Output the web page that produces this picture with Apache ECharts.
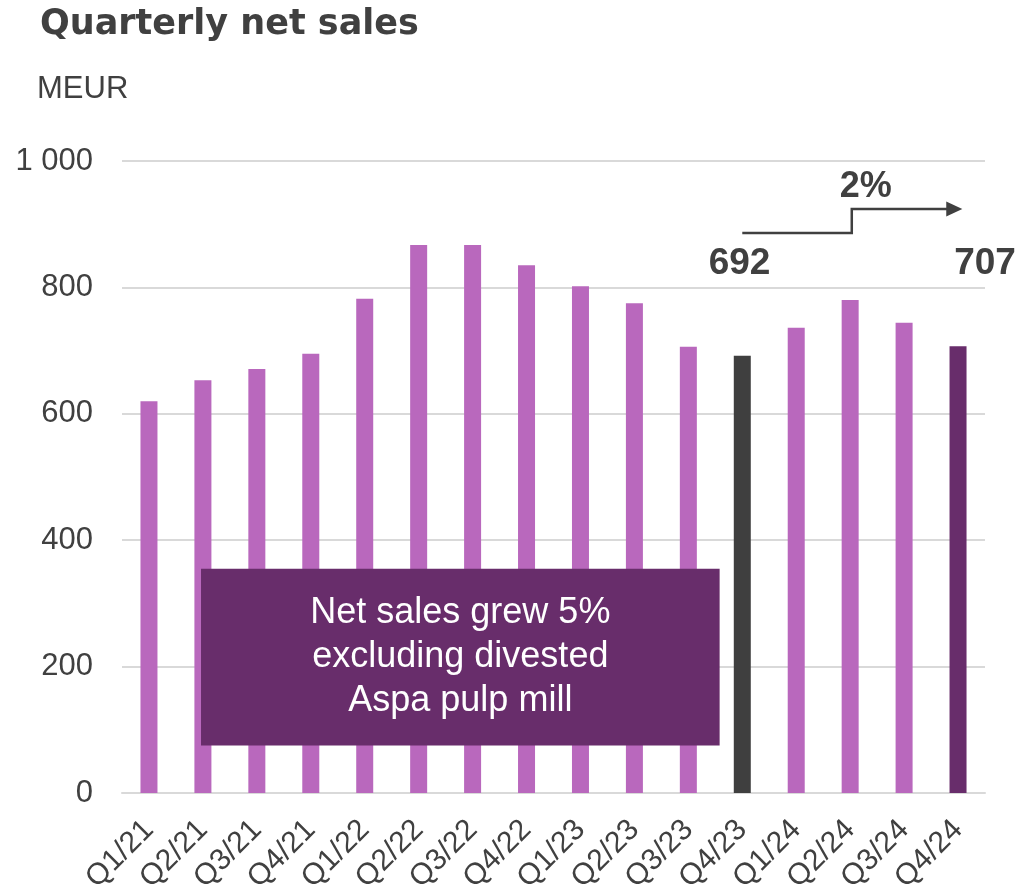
<!DOCTYPE html>
<html>
<head>
<meta charset="utf-8">
<style>
  html, body { margin: 0; padding: 0; background: #ffffff; }
  #chart { width: 1019px; height: 895px; }
</style>
<script src="https://cdn.jsdelivr.net/npm/echarts@6/dist/echarts.min.js"></script>
</head>
<body>
<div id="chart"></div>
<script>
// Quarterly net sales, MEUR
const quarters = ['Q1/21','Q2/21','Q3/21','Q4/21','Q1/22','Q2/22','Q3/22','Q4/22',
                  'Q1/23','Q2/23','Q3/23','Q4/23','Q1/24','Q2/24','Q3/24','Q4/24'];
const netSales = [620, 653, 671, 695, 782, 867, 867, 835, 802, 775, 706, 692, 736, 780, 744, 707];
const yTicks = [0, 200, 400, 600, 800, 1000];

const comparedIndex = 11;   // Q4/23
const currentIndex = 15;    // Q4/24
const growthLabel = '2%';
const noteLines = ['Net sales grew 5%', 'excluding divested', 'Aspa pulp mill'];

const BAR = '#b968bd';
const PREV = '#3f3f3f';
const CURR = '#682d6b';
const TEXT = '#404040';
const FONT = '"Liberation Sans", Arial, sans-serif';

const chart = echarts.init(document.getElementById('chart'));

const barData = netSales.map((v, i) => ({
  value: v,
  itemStyle: { color: i === comparedIndex ? PREV : (i === currentIndex ? CURR : BAR) }
}));

chart.setOption({
  animation: false,
  backgroundColor: '#ffffff',
  textStyle: { fontFamily: FONT },
  title: [
    { text: 'Quarterly net sales', left: 35, top: 2,
      textStyle: { fontFamily: '"DejaVu Sans", sans-serif', fontWeight: 'bold', fontSize: 35, color: TEXT } },
    { text: 'MEUR', left: 32, top: 69,
      textStyle: { fontFamily: FONT, fontWeight: 'normal', fontSize: 31, color: TEXT } }
  ],
  grid: { left: 122, right: 34, top: 161, bottom: 102, containLabel: false, outerBoundsMode: 'none' },
  xAxis: {
    type: 'category',
    data: quarters,
    axisLine: { lineStyle: { color: '#d9d9d9', width: 2 } },
    axisTick: { show: false },
    axisLabel: { rotate: 45, fontSize: 30, color: TEXT, margin: 32, interval: 0, fontFamily: FONT }
  },
  yAxis: {
    type: 'value',
    min: yTicks[0],
    max: yTicks[yTicks.length - 1],
    interval: 200,
    axisLine: { show: false },
    axisTick: { show: false },
    splitLine: { lineStyle: { color: '#d9d9d9', width: 2 } },
    axisLabel: {
      fontSize: 31, color: TEXT, margin: 29, fontFamily: FONT,
      formatter: v => String(v).replace(/\B(?=(\d{3})+(?!\d))/g, ' ')
    }
  },
  series: [{
    type: 'bar',
    data: barData,
    barWidth: 17
  }]
});

// Annotations placed in data space
function px(idx, val) {
  const a = chart.convertToPixel({ gridIndex: 0 }, [0, val]);
  const b = chart.convertToPixel({ gridIndex: 0 }, [1, val]);
  const band = b[0] - a[0];
  return [a[0] + idx * band, a[1]];
}

const lowY = 886, highY = 924;
const p0 = px(comparedIndex, lowY);
const p1 = px(13.03, lowY);
const p2 = px(13.03, highY);
const p3 = px(14.8, highY);
const tip = px(15.08, highY);
const boxTL = px(0.965, 355);
const boxBR = px(10.58, 75);
const boxCenter = px((0.965 + 10.58) / 2, 215);
const pctPos = px(13.29, 958);
const prevLbl = px(comparedIndex - 0.05, 837);
const currLbl = px(currentIndex + 0.5, 837);

chart.setOption({
  graphic: [
    {
      type: 'rect',
      shape: { x: boxTL[0], y: boxTL[1], width: boxBR[0] - boxTL[0], height: boxBR[1] - boxTL[1] },
      style: { fill: CURR },
      z: 10
    },
    {
      type: 'text',
      x: boxCenter[0], y: boxCenter[1],
      style: {
        text: noteLines.join('\n'), fill: '#ffffff', font: '36px ' + FONT,
        align: 'center', verticalAlign: 'middle', lineHeight: 44
      },
      z: 11
    },
    {
      type: 'polyline',
      shape: { points: [p0, p1, p2, p3] },
      style: { stroke: TEXT, lineWidth: 2.5, fill: null },
      z: 10
    },
    {
      type: 'polygon',
      shape: { points: [[p3[0] - 1, p3[1] - 7.5], [tip[0], tip[1]], [p3[0] - 1, p3[1] + 7.5]] },
      style: { fill: TEXT },
      z: 10
    },
    {
      type: 'text',
      x: pctPos[0], y: pctPos[1],
      style: { text: growthLabel, fill: TEXT, font: 'bold 36px ' + FONT, align: 'center', verticalAlign: 'middle' },
      z: 10
    },
    {
      type: 'text',
      x: prevLbl[0], y: prevLbl[1],
      style: { text: String(netSales[comparedIndex]), fill: TEXT, font: 'bold 37px ' + FONT, align: 'center', verticalAlign: 'middle' },
      z: 10
    },
    {
      type: 'text',
      x: currLbl[0], y: currLbl[1],
      style: { text: String(netSales[currentIndex]), fill: TEXT, font: 'bold 37px ' + FONT, align: 'center', verticalAlign: 'middle' },
      z: 10
    }
  ]
});
</script>
</body>
</html>
